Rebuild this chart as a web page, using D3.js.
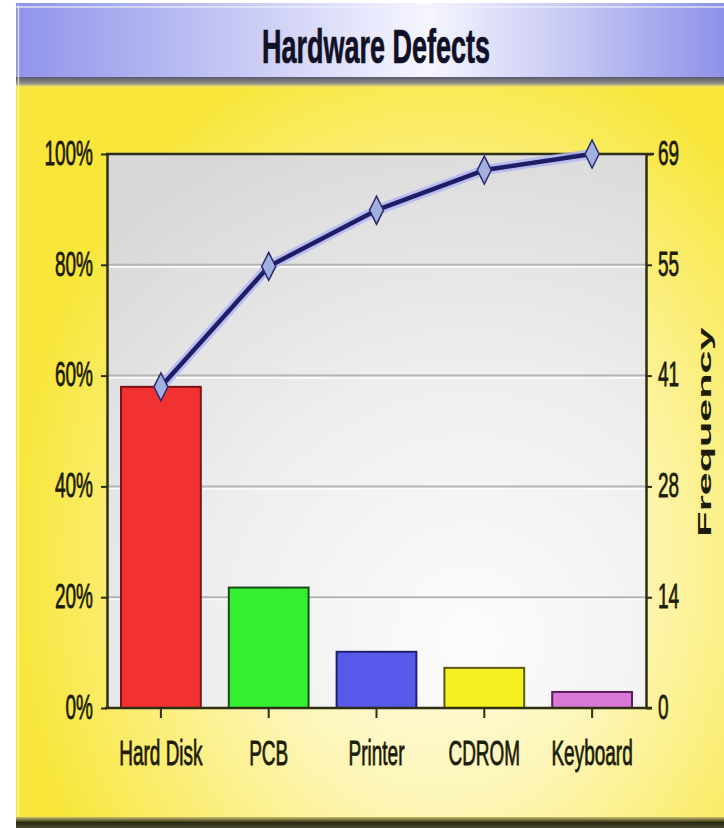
<!DOCTYPE html>
<html>
<head>
<meta charset="utf-8">
<script src="https://cdn.jsdelivr.net/npm/d3@7"></script>
<style>
  html, body { margin: 0; padding: 0; background: #ffffff; }
  svg { display: block; }
  text { font-family: "Liberation Sans", Arial, sans-serif; }
</style>
</head>
<body>
<div id="chart"></div>
<script>
// Hardware defect counts, sorted for a Pareto view
const categories = ["Hard Disk", "PCB", "Printer", "CDROM", "Keyboard"];
const counts = [40, 15, 7, 5, 2];
const barColors = ["#f23232", "#33f033", "#5858ea", "#f6f020", "#d878d4"];
const barStrokes = ["#7a1414", "#1a4a1a", "#20206e", "#5a5a10", "#5a1c5a"];
const pctTicks = [0, 20, 40, 60, 80, 100];
const freqTickLabels = ["0", "14", "28", "41", "55", "69"];

const W = 724, H = 828;
const plot = { left: 107, right: 646, top: 154, bottom: 708 };
const stretch = 1.8; // tall, narrow lettering

const total = d3.sum(counts);
let run = 0;
const cumPct = counts.map(c => { run += c; return run / total * 100; });

const svg = d3.select("#chart").append("svg")
  .attr("width", W).attr("height", H);
const defs = svg.append("defs");

// ---- gradients ----
const bodyGrad = defs.append("radialGradient").attr("id", "bodyGrad")
  .attr("gradientUnits", "userSpaceOnUse")
  .attr("cx", 440).attr("cy", 560).attr("r", 430)
  .attr("gradientTransform", "translate(440,560) scale(1,1.25) translate(-440,-560)");
bodyGrad.append("stop").attr("offset", "0%").attr("stop-color", "#fffdf0");
bodyGrad.append("stop").attr("offset", "45%").attr("stop-color", "#fdf6b8");
bodyGrad.append("stop").attr("offset", "100%").attr("stop-color", "#f8e63a");

const titleGrad = defs.append("linearGradient").attr("id", "titleGrad")
  .attr("x1", "0%").attr("x2", "100%").attr("y1", "0%").attr("y2", "0%");
titleGrad.append("stop").attr("offset", "0%").attr("stop-color", "#9094ea");
titleGrad.append("stop").attr("offset", "30%").attr("stop-color", "#c4c6f4");
titleGrad.append("stop").attr("offset", "58%").attr("stop-color", "#f6f6ff");
titleGrad.append("stop").attr("offset", "80%").attr("stop-color", "#c2c4f2");
titleGrad.append("stop").attr("offset", "100%").attr("stop-color", "#8e92e8");

const shadowGrad = defs.append("linearGradient").attr("id", "shadowGrad")
  .attr("x1", "0%").attr("x2", "0%").attr("y1", "0%").attr("y2", "100%");
shadowGrad.append("stop").attr("offset", "0%").attr("stop-color", "#5a5a6c");
shadowGrad.append("stop").attr("offset", "60%").attr("stop-color", "#8a8a84");
shadowGrad.append("stop").attr("offset", "100%").attr("stop-color", "#f6ea70");

const bottomGrad = defs.append("linearGradient").attr("id", "bottomGrad")
  .attr("x1", "0%").attr("x2", "0%").attr("y1", "0%").attr("y2", "100%");
bottomGrad.append("stop").attr("offset", "0%").attr("stop-color", "#c8c070");
bottomGrad.append("stop").attr("offset", "50%").attr("stop-color", "#2c2a10");
bottomGrad.append("stop").attr("offset", "100%").attr("stop-color", "#4a4830");

const plotGrad = defs.append("radialGradient").attr("id", "plotGrad")
  .attr("gradientUnits", "userSpaceOnUse")
  .attr("cx", 470).attr("cy", 640).attr("r", 540);
plotGrad.append("stop").attr("offset", "0%").attr("stop-color", "#fcfcfc");
plotGrad.append("stop").attr("offset", "50%").attr("stop-color", "#eeeeee");
plotGrad.append("stop").attr("offset", "100%").attr("stop-color", "#d8d8d8");

// ---- chart frame ----
svg.append("rect").attr("x", 16).attr("y", 3).attr("width", W - 16).attr("height", 820)
  .attr("fill", "url(#bodyGrad)");
svg.append("rect").attr("x", 16).attr("y", 3).attr("width", W - 16).attr("height", 76)
  .attr("fill", "url(#titleGrad)");
svg.append("rect").attr("x", 16).attr("y", 77).attr("width", W - 16).attr("height", 10)
  .attr("fill", "url(#shadowGrad)");
svg.append("line").attr("x1", 16).attr("x2", W).attr("y1", 7).attr("y2", 7)
  .attr("stroke", "#eef0ff").attr("stroke-width", 1.5).attr("opacity", 0.8);
svg.append("line").attr("x1", 18.5).attr("x2", 18.5).attr("y1", 5).attr("y2", 820)
  .attr("stroke", "#fffbe0").attr("stroke-width", 1.5).attr("opacity", 0.7);
svg.append("rect").attr("x", 16).attr("y", 817).attr("width", W - 16).attr("height", 11)
  .attr("fill", "url(#bottomGrad)");

// Title
svg.append("text")
  .attr("transform", `translate(376,63) scale(1,1.75)`)
  .attr("text-anchor", "middle")
  .attr("font-size", 27).attr("font-weight", "bold")
  .attr("fill", "#101026")
  .attr("stroke", "#101026").attr("stroke-width", 0.4)
  .text("Hardware Defects");

// ---- scales ----
const x = d3.scaleBand().domain(categories)
  .range([plot.left, plot.right]).paddingInner(0.26).paddingOuter(0.13);
const yPct = d3.scaleLinear().domain([0, 100]).range([plot.bottom, plot.top]);
const yFreq = d3.scaleLinear().domain([0, total]).range([plot.bottom, plot.top]);

// Plot background
svg.append("rect")
  .attr("x", plot.left).attr("y", plot.top)
  .attr("width", plot.right - plot.left).attr("height", plot.bottom - plot.top)
  .attr("fill", "url(#plotGrad)");

// Gridlines
const grid = svg.append("g");
pctTicks.filter(t => t > 0 && t < 100).forEach(t => {
  grid.append("line").attr("x1", plot.left).attr("x2", plot.right)
    .attr("y1", yPct(t) + 2).attr("y2", yPct(t) + 2)
    .attr("stroke", "#ffffff").attr("stroke-width", 2).attr("opacity", 0.9);
  grid.append("line").attr("x1", plot.left).attr("x2", plot.right)
    .attr("y1", yPct(t)).attr("y2", yPct(t))
    .attr("stroke", "#b4b4b4").attr("stroke-width", 2);
});

// Bars (frequency axis)
svg.append("g").selectAll("rect").data(counts).join("rect")
  .attr("x", (d, i) => x(categories[i]))
  .attr("width", x.bandwidth())
  .attr("y", d => yFreq(d))
  .attr("height", d => yFreq(0) - yFreq(d))
  .attr("fill", (d, i) => barColors[i])
  .attr("stroke", (d, i) => barStrokes[i])
  .attr("stroke-width", 2);

// Axes
const axisColor = "#2e2e10";
const labelColor = "#1c1c08";

function styleAxis(g) {
  g.selectAll("path.domain").attr("stroke", axisColor).attr("stroke-width", 2.5);
  g.selectAll(".tick line").attr("stroke", axisColor).attr("stroke-width", 2);
  g.selectAll("text").attr("fill", labelColor)
    .attr("stroke", labelColor).attr("stroke-width", 0.45)
    .attr("font-family", "\"Liberation Sans\", Arial, sans-serif")
    .attr("font-size", 19);
}

const leftAxis = svg.append("g")
  .attr("transform", `translate(${plot.left},0)`)
  .call(d3.axisLeft(yPct).tickValues(pctTicks).tickFormat(d => d + "%").tickSize(6).tickPadding(8).tickSizeOuter(0));
styleAxis(leftAxis);
leftAxis.selectAll("text")
  .attr("dy", "0.3em")
  .attr("transform", `scale(1,${stretch})`);

const rightTickVals = freqTickLabels.map((d, i) => total * i / (freqTickLabels.length - 1));
const rightAxis = svg.append("g")
  .attr("transform", `translate(${plot.right},0)`)
  .call(d3.axisRight(yFreq).tickValues(rightTickVals)
    .tickFormat((d, i) => freqTickLabels[i]).tickSize(6).tickPadding(6).tickSizeOuter(0));
styleAxis(rightAxis);
rightAxis.selectAll("text")
  .attr("dy", "0.3em")
  .attr("transform", `scale(1,${stretch})`);

const bottomAxis = svg.append("g")
  .attr("transform", `translate(0,${plot.bottom})`)
  .call(d3.axisBottom(x).tickSize(10).tickSizeOuter(0));
styleAxis(bottomAxis);
bottomAxis.select("path.domain")
  .attr("d", `M${plot.left - 2},0H${plot.right + 6}`);
bottomAxis.selectAll("text")
  .attr("y", 57 / stretch).attr("dy", 0)
  .attr("transform", `scale(1,${stretch})`);

// Top frame line
svg.append("line")
  .attr("x1", plot.left - 1).attr("x2", plot.right + 8)
  .attr("y1", plot.top).attr("y2", plot.top)
  .attr("stroke", axisColor).attr("stroke-width", 2.5);

// Right-hand axis title
svg.append("text")
  .attr("transform", `translate(711,432) scale(1,2.3) rotate(-90)`)
  .attr("text-anchor", "middle")
  .attr("font-size", 18).attr("font-weight", "bold")
  .attr("fill", labelColor)
  .text("Frequency");

// Cumulative percentage line
const cx = (d, i) => x(categories[i]) + x.bandwidth() / 2;
const line = d3.line().x((d, i) => cx(d, i)).y(d => yPct(d));
svg.append("path").datum(cumPct)
  .attr("d", line).attr("fill", "none")
  .attr("stroke", "#b4b6f2").attr("stroke-width", 10)
  .attr("stroke-linejoin", "round").attr("opacity", 0.85);
svg.append("path").datum(cumPct)
  .attr("d", line).attr("fill", "none")
  .attr("stroke", "#1e1e66").attr("stroke-width", 4.5)
  .attr("stroke-linejoin", "round");

// Diamond markers
svg.append("g").selectAll("path").data(cumPct).join("path")
  .attr("transform", (d, i) => `translate(${cx(d, i)},${yPct(d)})`)
  .attr("d", "M0,-14L7,0L0,14L-7,0Z")
  .attr("fill", "#a2b0de")
  .attr("stroke", "#2a2a72")
  .attr("stroke-width", 1.5);
</script>
</body>
</html>
